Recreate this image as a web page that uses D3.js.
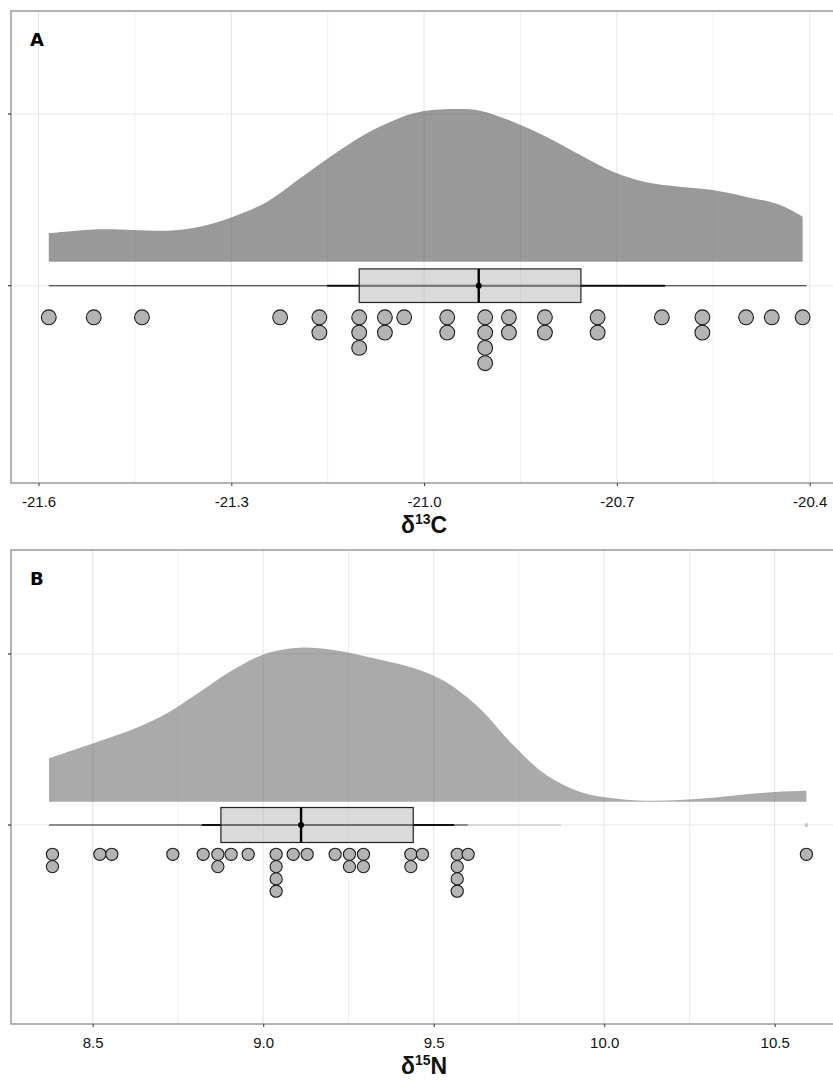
<!DOCTYPE html>
<html><head><meta charset="utf-8">
<script src="https://cdn.jsdelivr.net/npm/d3@7"></script>
<style>body{margin:0;background:#fff;overflow:hidden} svg{display:block}</style>
</head><body><svg id="c" width="833" height="1081"></svg>
<script>
// ---------- Panel A : δ13C ----------
const carbonTicks = [-21.6, -21.3, -21.0, -20.7, -20.4];
const carbonMinor = [-21.45, -21.15, -20.85, -20.55];
const carbonValues = [-21.584, -21.514, -21.439, -21.224, -21.163, -21.163,
  -21.101, -21.101, -21.101, -21.061, -21.061, -21.031, -20.964, -20.964,
  -20.905, -20.905, -20.905, -20.905, -20.868, -20.868, -20.812, -20.812,
  -20.730, -20.730, -20.630, -20.567, -20.567, -20.499, -20.459, -20.411];
const carbonDensityX = [-21.584, -21.504, -21.453, -21.400, -21.349, -21.297, -21.244,
  -21.193, -21.142, -21.089, -21.037, -21.006, -20.955, -20.913, -20.862, -20.810,
  -20.757, -20.706, -20.654, -20.603, -20.551, -20.500, -20.446, -20.411];
const carbonDensityY = [0.186, 0.212, 0.208, 0.203, 0.229, 0.295, 0.393, 0.546, 0.699,
  0.841, 0.943, 0.982, 1.0, 0.989, 0.917, 0.819, 0.699, 0.589, 0.520, 0.491, 0.470,
  0.426, 0.371, 0.295];
// [whisker low, q1, median, q3, whisker high]
const carbonBox = [-21.584, -21.101, -20.915, -20.756, -20.405];
const carbonRange = [-21.151, -20.625];

// ---------- Panel B : δ15N ----------
const nitrogenTicks = [8.5, 9.0, 9.5, 10.0, 10.5];
const nitrogenMinor = [8.75, 9.25, 9.75, 10.25];
const nitrogenValues = [8.382, 8.382, 8.521, 8.556, 8.735, 8.824, 8.867, 8.867, 8.906,
  8.956, 9.038, 9.038, 9.038, 9.038, 9.088, 9.129, 9.211, 9.253, 9.253, 9.294, 9.294,
  9.433, 9.433, 9.467, 9.569, 9.569, 9.569, 9.569, 9.601, 10.593];
const nitrogenDensityX = [8.372, 8.424, 8.521, 8.618, 8.718, 8.815, 8.911, 9.011, 9.108,
  9.205, 9.304, 9.401, 9.470, 9.537, 9.635, 9.733, 9.830, 9.928, 10.026, 10.123,
  10.221, 10.319, 10.417, 10.515, 10.593];
const nitrogenDensityY = [0.282, 0.321, 0.394, 0.470, 0.574, 0.714, 0.855, 0.964, 1.0,
  0.985, 0.942, 0.892, 0.845, 0.775, 0.606, 0.368, 0.173, 0.065, 0.022, 0.006, 0.011,
  0.026, 0.048, 0.065, 0.071];
const nitrogenBox = [8.372, 8.876, 9.111, 9.440, 9.600];
const nitrogenRange = [8.820, 9.560];
const nitrogenFaintRange = [9.600, 9.873];
const nitrogenOutliers = [10.593];

const svg = d3.select('#c');
const labelFont = "'Liberation Sans','Arial',sans-serif";

function panel(o) {
  const g = svg.append('g');
  const x = d3.scaleLinear().domain(o.refDomain).range(o.refRange);
  // y scale: 0 = box centre line, 1 = upper grid line
  const y = d3.scaleLinear().domain([0, 1]).range([o.yCenter, o.yUpper]);
  const left = o.left, right = 845, top = o.top, bottom = o.bottom;

  // grid
  g.selectAll('.vminor').data(o.minor).join('line')
    .attr('x1', d => x(d)).attr('x2', d => x(d)).attr('y1', top).attr('y2', bottom)
    .attr('stroke', '#efefef').attr('stroke-width', 1);
  g.selectAll('.vmajor').data(o.ticks).join('line')
    .attr('x1', d => x(d)).attr('x2', d => x(d)).attr('y1', top).attr('y2', bottom)
    .attr('stroke', '#e6e6e6').attr('stroke-width', 1.1);
  g.selectAll('.hmajor').data([0, 1]).join('line')
    .attr('x1', left).attr('x2', right).attr('y1', d => y(d)).attr('y2', d => y(d))
    .attr('stroke', '#e8e8e8').attr('stroke-width', 1.1);

  // density (half violin)
  const yd = d3.scaleLinear().domain([0, 1]).range([y(o.densBase), y(o.densTop)]);
  const pts = o.dx.map((v, i) => [v, o.dy[i]]);
  const area = d3.area().x(d => x(d[0])).y0(yd(0)).y1(d => yd(d[1]))
    .curve(d3.curveCatmullRom.alpha(0.5));
  g.append('path').datum(pts).attr('d', area)
    .attr('fill', '#555').attr('fill-opacity', o.densOpacity);

  // box plot
  const yc = y(0);
  const b = o.box;
  g.append('line').attr('x1', x(b[0])).attr('x2', x(b[4])).attr('y1', yc).attr('y2', yc)
    .attr('stroke', '#222').attr('stroke-width', 1.1);
  if (o.faint) g.append('line').attr('x1', x(o.faint[0])).attr('x2', x(o.faint[1]))
    .attr('y1', yc).attr('y2', yc).attr('stroke', '#bdbdbd').attr('stroke-width', 1.1);
  g.append('line').attr('x1', x(o.range[0])).attr('x2', x(o.range[1])).attr('y1', yc).attr('y2', yc)
    .attr('stroke', '#111').attr('stroke-width', 2);
  g.append('rect').attr('x', x(b[1])).attr('width', x(b[3]) - x(b[1]))
    .attr('y', yc - o.boxHalf).attr('height', o.boxHalf * 2)
    .attr('fill', '#bcbcbc').attr('fill-opacity', 0.55)
    .attr('stroke', '#222').attr('stroke-width', 1.2);
  g.append('line').attr('x1', x(b[2])).attr('x2', x(b[2]))
    .attr('y1', yc - o.boxHalf).attr('y2', yc + o.boxHalf)
    .attr('stroke', '#000').attr('stroke-width', 2.4);
  g.append('circle').attr('cx', x(b[2])).attr('cy', yc).attr('r', 3).attr('fill', '#000');
  if (o.outliers) g.selectAll('.out').data(o.outliers).join('circle')
    .attr('cx', d => x(d)).attr('cy', yc).attr('r', 2).attr('fill', '#c8c8c8');

  // dot plot
  const counts = new Map();
  const dots = o.values.map(v => {
    const k = counts.get(v) || 0; counts.set(v, k + 1);
    return { v, k };
  });
  g.selectAll('.dot').data(dots).join('circle')
    .attr('cx', d => x(d.v)).attr('cy', d => yc + o.dotStart + d.k * o.dotStep)
    .attr('r', o.dotR).attr('fill', '#b4b4b4').attr('stroke', '#1a1a1a').attr('stroke-width', 1.1);

  // panel border
  g.append('rect').attr('x', left).attr('y', top).attr('width', right - left)
    .attr('height', bottom - top).attr('fill', 'none').attr('stroke', '#8a8a8a').attr('stroke-width', 1.3);

  // y ticks (no labels)
  g.selectAll('.yt').data([0, 1]).join('line')
    .attr('x1', left - 3).attr('x2', left).attr('y1', d => y(d)).attr('y2', d => y(d))
    .attr('stroke', '#333').attr('stroke-width', 1.2);

  // x axis
  const fmt = d => d3.format('.1f')(d).replace('\u2212', '-');
  const ax = g.append('g').attr('transform', `translate(0,${bottom})`)
    .call(d3.axisBottom(x).tickValues(o.ticks).tickFormat(fmt).tickSize(3).tickPadding(10));
  ax.select('.domain').remove();
  ax.selectAll('.tick line').attr('stroke', '#444').attr('stroke-width', 1.1);
  ax.selectAll('.tick text').attr('font-family', labelFont)
    .attr('font-size', 15).attr('fill', '#111');

  // title
  const t = g.append('text').attr('x', 424).attr('y', bottom + 50).attr('text-anchor', 'middle')
    .attr('font-family', labelFont).attr('font-weight', 'bold')
    .attr('font-size', 23).attr('fill', '#111');
  t.append('tspan').text('δ');
  t.append('tspan').text(o.sup).attr('font-size', 14).attr('dy', -9);
  t.append('tspan').text(o.el).attr('dy', 9);

  // panel letter
  g.append('text').attr('x', 30).attr('y', top + 35).text(o.letter)
    .attr('font-family', "'DejaVu Sans',sans-serif").attr('font-weight', 'bold').attr('font-size', 18).attr('fill', '#000');
}

panel({
  letter: 'A', sup: '13', el: 'C',
  refDomain: [-21.6, -20.4], refRange: [38.5, 809.7],
  left: 11, top: 11, bottom: 483, yCenter: 285.7, yUpper: 114,
  ticks: carbonTicks, minor: carbonMinor,
  dx: carbonDensityX, dy: carbonDensityY,
  densBase: (285.7 - 261.7) / 171.7, densTop: (285.7 - 109) / 171.7, densOpacity: 0.6,
  box: carbonBox, range: carbonRange, boxHalf: 16.8,
  values: carbonValues, dotR: 7.4, dotStart: 31.6, dotStep: 15.3
});

panel({
  letter: 'B', sup: '15', el: 'N',
  refDomain: [8.5, 10.5], refRange: [92.7, 774.7],
  left: 11, top: 550, bottom: 1024, yCenter: 825, yUpper: 654,
  ticks: nitrogenTicks, minor: nitrogenMinor,
  dx: nitrogenDensityX, dy: nitrogenDensityY,
  densBase: (825 - 801.7) / 171, densTop: (825 - 647.7) / 171, densOpacity: 0.5,
  box: nitrogenBox, range: nitrogenRange, faint: nitrogenFaintRange, outliers: nitrogenOutliers, boxHalf: 17.5,
  values: nitrogenValues, dotR: 6.1, dotStart: 29.3, dotStep: 12.3
});
</script>
</body></html>
